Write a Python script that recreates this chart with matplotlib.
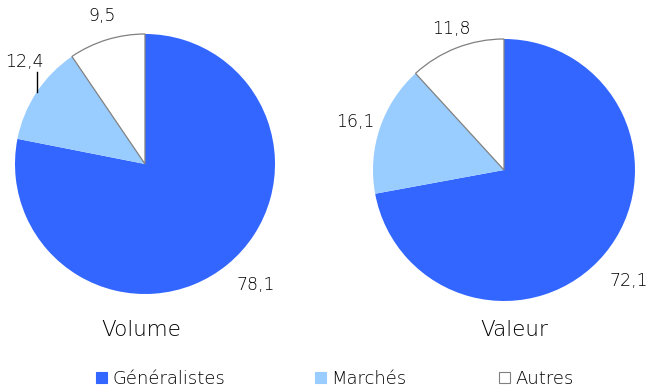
import numpy as np
import matplotlib
matplotlib.use("Agg")
import matplotlib.pyplot as plt
from matplotlib.patches import Patch

categories = ["Généralistes", "Marchés", "Autres"]
volume = [78.1, 12.4, 9.5]
valeur = [72.1, 16.1, 11.8]
titles = ["Volume", "Valeur"]
colors = ["#3366FF", "#99CCFF", "#FFFFFF"]

plt.rcParams["font.family"] = ["DejaVu Sans"]
WT = "light"
TXT = "#000000"

W, H = 651, 389
fig = plt.figure(figsize=(W / 100, H / 100), dpi=100)
ax = fig.add_axes([0, 0, 1, 1])

def fmt(v):
    return f"{v:.1f}".replace(".", ",")

pies = [
    dict(vals=volume, center=(145, H - 164), r=130, title_xy=(141, H - 330),
         dist=[1.28, 1.22, 1.19], nudge=[(5, 8), (0, 0), (3, 0)],
         leader=[False, True, False]),
    dict(vals=valeur, center=(504, H - 170), r=131, title_xy=(514, H - 330),
         dist=[1.20, 1.20, 1.14], nudge=[(4, -10), (0, -2), (1, 2)],
         leader=[False, False, False]),
]

for p, title in zip(pies, titles):
    wedges, _ = ax.pie(p["vals"], colors=colors, startangle=90, counterclock=False,
                       center=p["center"], radius=p["r"], frame=True,
                       wedgeprops=dict(linewidth=0))
    wedges[2].set_edgecolor("#808080")
    wedges[2].set_linewidth(0.9)
    cx, cy = p["center"]
    for i, w in enumerate(wedges):
        ang = np.deg2rad((w.theta1 + w.theta2) / 2)
        d = p["dist"][i] * p["r"]
        tx = cx + d * np.cos(ang) + p["nudge"][i][0]
        ty = cy + d * np.sin(ang) + p["nudge"][i][1]
        if p["leader"][i]:
            ex, ey = cx + p["r"] * np.cos(ang), cy + p["r"] * np.sin(ang)
            ax.plot([ex, ex], [ey, ey + 20], color="black", lw=1)
            tx, ty = ex - 12, ey + 30
        ax.text(tx, ty, fmt(p["vals"][i]), ha="center", va="center",
                fontsize=12.5, color=TXT, fontweight=WT)
    ax.text(p["title_xy"][0], p["title_xy"][1], title, ha="center", va="center",
            fontsize=15.5, color=TXT, fontweight=WT)

ax.set_xlim(0, W)
ax.set_ylim(0, H)
ax.set_aspect("auto")
ax.axis("off")

leg_x = [96, 315, 499]
for cat, col, lx in zip(categories, colors, leg_x):
    h = Patch(facecolor=col, edgecolor="#808080" if col == "#FFFFFF" else col, linewidth=0.8)
    leg = fig.legend([h], [cat], loc="center left",
                     bbox_to_anchor=(lx / W, (H - 379) / H),
                     frameon=False, fontsize=13, handlelength=0.6, handleheight=0.6,
                     handletextpad=0.3, borderpad=0, borderaxespad=0)
    for t in leg.get_texts():
        t.set_color(TXT)
        t.set_fontweight(WT)

fig.savefig("out.png", dpi=100)
